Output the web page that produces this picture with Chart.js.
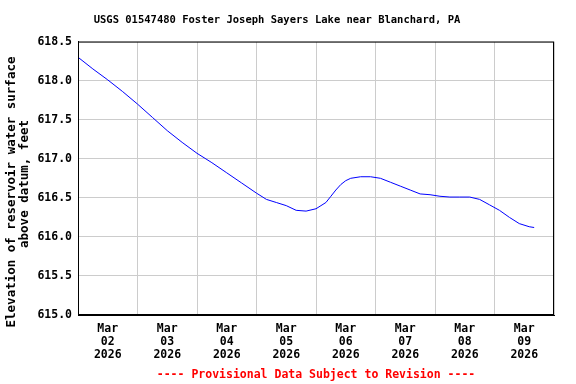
<!DOCTYPE html>
<html>
<head>
<meta charset="utf-8">
<script src="https://cdn.jsdelivr.net/npm/chart.js@4/dist/chart.umd.min.js"></script>
<style>
  html, body { margin: 0; padding: 0; background: #fff; }
  #wrap { width: 576px; height: 384px; }
</style>
</head>
<body>
<div id="wrap"><canvas id="chart" width="576" height="384"></canvas></div>
<script>
// hours since Mar 02 2026 00:00
const hours = [0, 6, 12, 18, 24, 30, 36, 42, 48, 54, 60, 66, 72, 76, 80, 84, 88, 92, 96, 98,
  100, 102, 104, 106, 108, 110, 114, 118, 122, 126, 130, 134, 138, 142, 146, 150, 154, 158,
  162, 166, 170, 174, 178, 182, 184];
const elevation = [618.30, 618.15, 618.01, 617.86, 617.70, 617.53, 617.36, 617.21, 617.07,
  616.95, 616.82, 616.69, 616.56, 616.48, 616.44, 616.40, 616.34, 616.33, 616.36, 616.40,
  616.44, 616.52, 616.60, 616.67, 616.72, 616.75, 616.77, 616.77, 616.75, 616.70, 616.65,
  616.60, 616.55, 616.54, 616.52, 616.51, 616.51, 616.51, 616.48, 616.41, 616.34, 616.25,
  616.17, 616.13, 616.12];
const dayLabels = ['02', '03', '04', '05', '06', '07', '08', '09'];
const monthLabel = 'Mar';
const yearLabel = '2026';
const yTitle = ['Elevation of reservoir water surface', 'above datum, feet'];

const mono = 'DejaVu Sans Mono';

// black box round the plot area, and the two-line y title
const frame = {
  id: 'frame',
  afterDraw(chart) {
    const a = chart.chartArea;
    const ctx = chart.ctx;
    ctx.save();
    ctx.strokeStyle = '#000';
    ctx.lineWidth = 1;
    ctx.strokeRect(a.left + 0.5, a.top + 0.5, a.right - a.left - 1, a.bottom - a.top - 1);

    ctx.fillStyle = '#000';
    ctx.font = 'bold 12.5px "' + mono + '"';
    ctx.textAlign = 'center';
    ctx.textBaseline = 'middle';
    const mid = chart.height / 2;
    ctx.translate(12, mid);
    ctx.rotate(-Math.PI / 2);
    ctx.fillText(yTitle[0], 0, 0);
    ctx.fillText(yTitle[1], 8, 13);
    ctx.restore();
  }
};

new Chart(document.getElementById('chart'), {
  type: 'line',
  data: {
    datasets: [{
      data: hours.map((h, i) => ({ x: h, y: elevation[i] })),
      borderColor: '#0000ff',
      borderWidth: 1,
      pointRadius: 0,
      tension: 0
    }]
  },
  options: {
    responsive: false,
    animation: false,
    layout: { padding: { left: 0, right: 22, top: 0, bottom: 0 } },
    plugins: {
      legend: { display: false },
      tooltip: { enabled: false },
      title: {
        display: true,
        text: 'USGS 01547480 Foster Joseph Sayers Lake near Blanchard, PA',
        color: '#000',
        font: { family: mono, size: 10.5, weight: 'bold' },
        padding: { top: 14, bottom: 15 }
      }
    },
    scales: {
      x: {
        type: 'linear',
        min: 0,
        max: 192,
        afterFit: s => { s.height = 69; },
        grid: {
          color: c => (c.tick && c.tick.value % 24 === 0) ? '#cccccc' : 'rgba(0,0,0,0)',
          drawTicks: false
        },
        border: { color: '#000' },
        ticks: {
          stepSize: 12,
          autoSkip: false,
          maxRotation: 0,
          padding: 8,
          color: '#000',
          font: { family: mono, size: 11.5, weight: 'bold', lineHeight: 1.12 },
          callback: v => v % 24 === 12 ? [monthLabel, dayLabels[(v - 12) / 24], yearLabel] : ''
        },
        title: {
          display: true,
          text: '---- Provisional Data Subject to Revision ----',
          color: '#ff0000',
          font: { family: mono, size: 11.5, weight: 'bold' },
          padding: { top: 4, bottom: 2 }
        }
      },
      y: {
        min: 615,
        max: 618.5,
        afterFit: s => { s.width = 78; },
        grid: { color: '#cccccc', drawTicks: false },
        border: { color: '#000' },
        ticks: {
          stepSize: 0.5,
          padding: 6,
          color: '#000',
          font: { family: mono, size: 11.5, weight: 'bold' },
          callback: v => v.toFixed(1)
        }
      }
    }
  },
  plugins: [frame]
});
</script>
</body>
</html>
